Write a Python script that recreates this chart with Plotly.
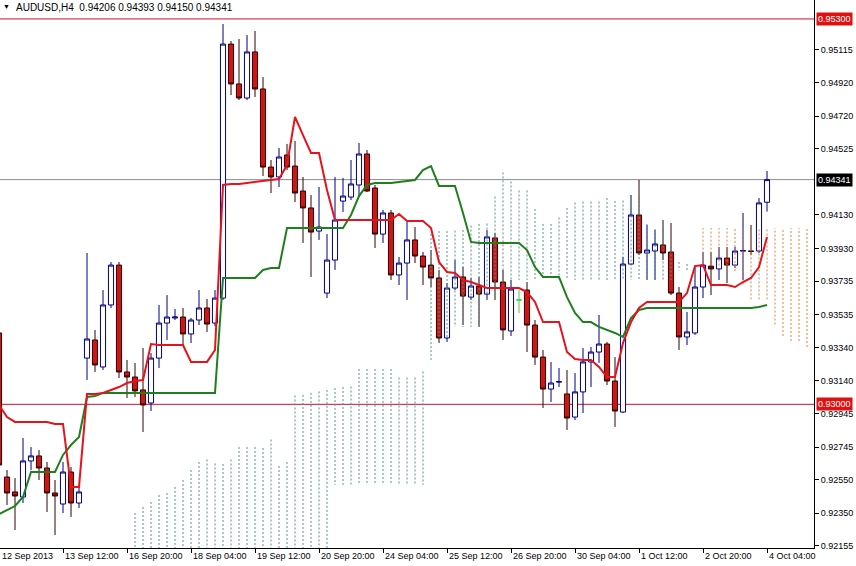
import plotly.graph_objects as go

# ---------------- data (AUDUSD H4) ----------------
bars = list(range(-8, 89))  # bar index, 0 = 13 Sep 12:00

opens = [0.93426, 0.92566, 0.92477, 0.92447, 0.92662, 0.92692, 0.92620, 0.92471,
         0.92405, 0.92596, 0.92411, 0.93276, 0.93384, 0.93223, 0.93593, 0.93831,
         0.93193, 0.93163, 0.93086, 0.93008, 0.93276, 0.93485, 0.93515, 0.93521,
         0.93420, 0.93503, 0.93575, 0.93485, 0.93634, 0.95150, 0.94912, 0.94828,
         0.95103, 0.94882, 0.94416, 0.94357, 0.94488, 0.94422, 0.94273, 0.94172,
         0.94034, 0.93664, 0.93861, 0.94213, 0.94237, 0.94309, 0.94494, 0.94291,
         0.94016, 0.94142, 0.93772, 0.93843, 0.93981, 0.93885, 0.93831, 0.93754,
         0.93396, 0.93694, 0.93760, 0.93640, 0.93706, 0.93658, 0.93993, 0.93730,
         0.93438, 0.93623, 0.93682, 0.93473, 0.93282, 0.93091, 0.93133, 0.93062,
         0.92924, 0.93074, 0.93253, 0.93312, 0.93360, 0.93139, 0.92954, 0.93837,
         0.94130, 0.93903, 0.93915, 0.93951, 0.93909, 0.93664, 0.93402, 0.93426,
         0.93700, 0.93825, 0.93808, 0.93873, 0.93831, 0.93915, 0.93915, 0.93915,
         0.94206]
highs = [0.93444, 0.92608, 0.92560, 0.92799, 0.92745, 0.92727, 0.92656, 0.92548,
         0.92656, 0.92626, 0.92507, 0.93903, 0.93444, 0.93682, 0.93849, 0.93849,
         0.93265, 0.93247, 0.93336, 0.93306, 0.93593, 0.93652, 0.93569, 0.93575,
         0.93515, 0.93682, 0.93629, 0.93682, 0.95270, 0.95168, 0.95180, 0.95204,
         0.95228, 0.94953, 0.94458, 0.94530, 0.94554, 0.94572, 0.94357, 0.94249,
         0.94297, 0.94016, 0.94357, 0.94351, 0.94458, 0.94560, 0.94518, 0.94309,
         0.94160, 0.94160, 0.93879, 0.94088, 0.94058, 0.93909, 0.93921, 0.93802,
         0.93724, 0.93861, 0.93819, 0.93754, 0.93760, 0.94040, 0.94022, 0.93802,
         0.93742, 0.93682, 0.93730, 0.93503, 0.93324, 0.93253, 0.93217, 0.93205,
         0.93187, 0.93336, 0.93342, 0.93533, 0.93372, 0.93282, 0.93879, 0.94249,
         0.94339, 0.94070, 0.94040, 0.94100, 0.94082, 0.93700, 0.93551, 0.93819,
         0.93909, 0.93909, 0.93939, 0.93939, 0.93939, 0.94142, 0.94070, 0.94231,
         0.94393]
lows = [0.92608, 0.92399, 0.92250, 0.92411, 0.92608, 0.92548, 0.92357, 0.92220,
        0.92351, 0.92328, 0.92381, 0.93145, 0.93193, 0.93205, 0.93575, 0.93157,
        0.93038, 0.93044, 0.92835, 0.92960, 0.93217, 0.93384, 0.93503, 0.93354,
        0.93366, 0.93473, 0.93432, 0.93467, 0.93623, 0.94846, 0.94816, 0.94816,
        0.94834, 0.94363, 0.94261, 0.94297, 0.94398, 0.94207, 0.93963, 0.93760,
        0.93981, 0.93634, 0.93802, 0.94148, 0.94219, 0.94237, 0.94267, 0.93933,
        0.93963, 0.93742, 0.93712, 0.93623, 0.93843, 0.93712, 0.93700, 0.93366,
        0.93372, 0.93682, 0.93473, 0.93623, 0.93462, 0.93623, 0.93623, 0.93384,
        0.93408, 0.93545, 0.93312, 0.93235, 0.92978, 0.93014, 0.93103, 0.92847,
        0.92906, 0.92948, 0.93103, 0.93247, 0.93115, 0.92865, 0.92948, 0.93831,
        0.93891, 0.93742, 0.93742, 0.93861, 0.93652, 0.93324, 0.93354, 0.93414,
        0.93634, 0.93652, 0.93742, 0.93724, 0.93814, 0.93742, 0.93891, 0.93903,
        0.94150]
closes = [0.92638, 0.92471, 0.92453, 0.92662, 0.92692, 0.92620, 0.92471, 0.92453,
          0.92596, 0.92411, 0.92477, 0.93390, 0.93235, 0.93593, 0.93831, 0.93193,
          0.93163, 0.93080, 0.92996, 0.93276, 0.93485, 0.93521, 0.93521, 0.93420,
          0.93503, 0.93575, 0.93479, 0.93634, 0.95150, 0.94912, 0.94828, 0.95103,
          0.94882, 0.94416, 0.94357, 0.94476, 0.94416, 0.94261, 0.94172, 0.94028,
          0.94058, 0.93861, 0.94100, 0.94243, 0.94315, 0.94494, 0.94273, 0.94016,
          0.94142, 0.93772, 0.93843, 0.93981, 0.93885, 0.93819, 0.93754, 0.93396,
          0.93694, 0.93760, 0.93646, 0.93706, 0.93658, 0.93999, 0.93730, 0.93444,
          0.93688, 0.93623, 0.93473, 0.93282, 0.93091, 0.93127, 0.93135, 0.92918,
          0.93074, 0.93253, 0.93312, 0.93360, 0.93139, 0.92960, 0.93837, 0.94130,
          0.93903, 0.93921, 0.93957, 0.93903, 0.93664, 0.93402, 0.93432, 0.93700,
          0.93831, 0.93808, 0.93873, 0.93831, 0.93915, 0.93917, 0.93913, 0.94202,
          0.94341]

tenkan = [0.92996, 0.92924, 0.92895, 0.92895, 0.92895, 0.92895, 0.92895, 0.92883,
          0.92883, 0.92507, 0.92507, 0.93062, 0.93062, 0.93068, 0.93086, 0.93103,
          0.93127, 0.93139, 0.93145, 0.93360, 0.93354, 0.93354, 0.93354, 0.93354,
          0.93253, 0.93253, 0.93253, 0.93324, 0.94309, 0.94315, 0.94315, 0.94321,
          0.94327, 0.94333, 0.94339, 0.94345, 0.94428, 0.94715, 0.94607, 0.94500,
          0.94500, 0.94279, 0.94100, 0.94100, 0.94100, 0.94100, 0.94100, 0.94100,
          0.94100, 0.94100, 0.94136, 0.94094, 0.94094, 0.94094, 0.94052, 0.93849,
          0.93790, 0.93784, 0.93742, 0.93730, 0.93712, 0.93694, 0.93694, 0.93694,
          0.93694, 0.93694, 0.93670, 0.93611, 0.93491, 0.93491, 0.93491, 0.93312,
          0.93270, 0.93265, 0.93265, 0.93223, 0.93163, 0.93163, 0.93366, 0.93491,
          0.93575, 0.93611, 0.93611, 0.93611, 0.93611, 0.93611, 0.93664, 0.93825,
          0.93831, 0.93712, 0.93712, 0.93712, 0.93700, 0.93730, 0.93754, 0.93819,
          0.93999]
kijun = [0.92345, 0.92369, 0.92393, 0.92447, 0.92596, 0.92596, 0.92596, 0.92596,
         0.92698, 0.92757, 0.92805, 0.93044, 0.93050, 0.93068, 0.93068, 0.93068,
         0.93068, 0.93068, 0.93068, 0.93068, 0.93068, 0.93068, 0.93068, 0.93068,
         0.93068, 0.93068, 0.93068, 0.93068, 0.93754, 0.93754, 0.93754, 0.93754,
         0.93754, 0.93802, 0.93814, 0.93814, 0.94052, 0.94052, 0.94052, 0.94052,
         0.94052, 0.94052, 0.94052, 0.94052, 0.94130, 0.94243, 0.94309, 0.94321,
         0.94321, 0.94321, 0.94327, 0.94333, 0.94339, 0.94398, 0.94422, 0.94303,
         0.94303, 0.94303, 0.94142, 0.93969, 0.93963, 0.93963, 0.93963, 0.93963,
         0.93963, 0.93963, 0.93921, 0.93819, 0.93760, 0.93760, 0.93760, 0.93640,
         0.93545, 0.93491, 0.93491, 0.93462, 0.93444, 0.93426, 0.93402, 0.93515,
         0.93563, 0.93575, 0.93575, 0.93575, 0.93575, 0.93575, 0.93575, 0.93575,
         0.93575, 0.93575, 0.93575, 0.93575, 0.93575, 0.93575, 0.93575, 0.93581,
         0.93593]

cloud_bars = list(range(9, 94))
span_a = [0.92351, 0.92387, 0.92417, 0.92459, 0.92471, 0.92507, 0.92548, 0.92608,
          0.92656, 0.92671, 0.92647, 0.92644, 0.92671, 0.92745, 0.92745, 0.92745,
          0.92739, 0.92790, 0.92632, 0.92656, 0.93053, 0.93056, 0.93068, 0.93077,
          0.93086, 0.93097, 0.93103, 0.93106, 0.93211, 0.93211, 0.93211, 0.93211,
          0.93211, 0.93160, 0.93160, 0.93160, 0.93196, 0.94016, 0.94034, 0.94034,
          0.94037, 0.94040, 0.94067, 0.94076, 0.94079, 0.94240, 0.94384, 0.94330,
          0.94276, 0.94276, 0.94166, 0.94076, 0.94076, 0.94115, 0.94172, 0.94204,
          0.94210, 0.94210, 0.94210, 0.94231, 0.94213, 0.94216, 0.94246, 0.94237,
          0.94076, 0.94046, 0.94043, 0.93942, 0.93849, 0.93837, 0.93828, 0.93828,
          0.93828, 0.93828, 0.93828, 0.93796, 0.93715, 0.93626, 0.93626, 0.93626,
          0.93476, 0.93408, 0.93378, 0.93378, 0.93342]
span_b = [0.92050, 0.92050, 0.92050, 0.92050, 0.92050, 0.92050, 0.92050, 0.92050,
          0.92050, 0.92050, 0.92050, 0.92050, 0.92050, 0.92050, 0.92050, 0.92050,
          0.92050, 0.92050, 0.92050, 0.92050, 0.92050, 0.92050, 0.92050, 0.92050,
          0.92050, 0.92519, 0.92519, 0.92519, 0.92519, 0.92519, 0.92519, 0.92519,
          0.92519, 0.92519, 0.92519, 0.92519, 0.92519, 0.93265, 0.93366, 0.93384,
          0.93462, 0.93462, 0.93462, 0.93462, 0.93623, 0.93682, 0.93682, 0.93682,
          0.93742, 0.93742, 0.93742, 0.93742, 0.93742, 0.93742, 0.93742, 0.93742,
          0.93742, 0.93742, 0.93742, 0.93742, 0.93742, 0.93742, 0.93742, 0.93742,
          0.93742, 0.93742, 0.93742, 0.93742, 0.93799, 0.93799, 0.93825, 0.94052,
          0.94052, 0.94052, 0.94052, 0.94052, 0.94052, 0.94052, 0.94052, 0.94052,
          0.94052, 0.94052, 0.94052, 0.94052, 0.94052]

label_bars = [-8, 0, 8, 16, 24, 32, 40, 48, 56, 64, 72, 80, 88]
time_labels = ["12 Sep 2013", "13 Sep 12:00", "16 Sep 20:00", "18 Sep 04:00",
               "19 Sep 12:00", "20 Sep 20:00", "24 Sep 04:00", "25 Sep 12:00",
               "26 Sep 20:00", "30 Sep 04:00", "1 Oct 12:00", "2 Oct 20:00",
               "4 Oct 04:00"]
price_ticks = [0.95115, 0.94920, 0.94720, 0.94525, 0.94130, 0.93930, 0.93735,
               0.93535, 0.93340, 0.93140, 0.92945, 0.92745, 0.92550, 0.92350, 0.92155]
levels = [0.95300, 0.93000]
symbol = "AUDUSD,H4"

# ---------------- figure ----------------
FONT = "Liberation Sans"
X_RANGE = [-7.875, 93.875]
fig = go.Figure()

# Ichimoku cloud as dotted vertical columns
tx, ty, ox, oy = [], [], [], []
for k, a, b in zip(cloud_bars, span_a, span_b):
    if a >= b:
        tx += [k, k, None]
        ty += [a, b, None]
    else:
        ox += [k, k, None]
        oy += [a, b, None]
fig.add_trace(go.Scatter(x=tx, y=ty, mode="lines", hoverinfo="skip",
                         line=dict(color="#4f9489", width=1, dash="2px,2px")))
fig.add_trace(go.Scatter(x=ox, y=oy, mode="lines", hoverinfo="skip",
                         line=dict(color="#e0803a", width=1, dash="2px,2px")))

# candles
reg = [i for i in range(len(bars)) if opens[i] != closes[i]]
doji = [i for i in range(len(bars)) if opens[i] == closes[i]]
fig.add_trace(go.Candlestick(
    x=[bars[i] for i in reg], open=[opens[i] for i in reg], high=[highs[i] for i in reg],
    low=[lows[i] for i in reg], close=[closes[i] for i in reg],
    increasing=dict(line=dict(color="#000080", width=1), fillcolor="white"),
    decreasing=dict(line=dict(color="#2a0505", width=1), fillcolor="#d01515"),
    whiskerwidth=0, hoverinfo="skip"))
fig.add_trace(go.Candlestick(
    x=[bars[i] for i in doji], open=[opens[i] for i in doji], high=[highs[i] for i in doji],
    low=[lows[i] for i in doji], close=[closes[i] for i in doji],
    increasing=dict(line=dict(color="#44cc44", width=1), fillcolor="#44cc44"),
    decreasing=dict(line=dict(color="#44cc44", width=1), fillcolor="#44cc44"),
    whiskerwidth=0, hoverinfo="skip"))

# Tenkan / Kijun
fig.add_trace(go.Scatter(x=bars, y=kijun, mode="lines", hoverinfo="skip",
                         line=dict(color="#1f7f1f", width=2)))
fig.add_trace(go.Scatter(x=bars, y=tenkan, mode="lines", hoverinfo="skip",
                         line=dict(color="#e8121c", width=2)))

# horizontal levels
shapes = []
for lv in levels:
    shapes.append(dict(type="line", xref="paper", x0=0, x1=1, yref="y", y0=lv, y1=lv,
                       line=dict(color="#c8102e", width=1), layer="below"))
last_close = closes[-1]
shapes.append(dict(type="line", xref="paper", x0=0, x1=1, yref="y", y0=last_close,
                   y1=last_close, line=dict(color="#8c8c8c", width=1), layer="below"))

annotations = []
for lv in levels:
    annotations.append(dict(x=1, xref="paper", y=lv, yref="y", xanchor="left",
                            xshift=2, text=f"{lv:.5f}", showarrow=False,
                            bgcolor="#e01010", borderpad=1,
                            font=dict(family=FONT, size=9, color="white")))
annotations.append(dict(x=1, xref="paper", y=last_close, yref="y", xanchor="left",
                        xshift=2, text=f"{last_close:.5f}", showarrow=False,
                        bgcolor="black", borderpad=1,
                        font=dict(family=FONT, size=9, color="white")))
for b, lab in zip(label_bars, time_labels):
    annotations.append(dict(x=max(b, X_RANGE[0]), xref="x", y=0, yref="paper",
                            xanchor="left", yanchor="top", yshift=-1, text=lab,
                            showarrow=False,
                            font=dict(family=FONT, size=9, color="black")))
title = f"{symbol}  {opens[-1]:.5f} {highs[-1]:.5f} {lows[-1]:.5f} {closes[-1]:.5f}"
annotations.append(dict(x=14 / 814, xref="paper", y=1, yref="paper", xanchor="left",
                        yanchor="top", text=title, showarrow=False,
                        font=dict(family=FONT, size=10, color="black")))
annotations.append(dict(x=1 / 814, xref="paper", y=1, yref="paper", xanchor="left",
                        yanchor="top", yshift=-1, text="▼", showarrow=False,
                        font=dict(family=FONT, size=7, color="black")))

fig.update_layout(
    width=856, height=566,
    margin=dict(l=0, r=42, t=0, b=18),
    paper_bgcolor="white", plot_bgcolor="white",
    showlegend=False,
    boxgap=0.2, boxgroupgap=0.2,
    font=dict(family=FONT, size=9, color="black"),
    shapes=shapes, annotations=annotations,
    xaxis=dict(range=X_RANGE, tickvals=label_bars, showticklabels=False,
               ticks="outside", ticklen=4, tickcolor="black",
               showline=True, linecolor="black", linewidth=1,
               showgrid=False, zeroline=False, rangeslider=dict(visible=False),
               fixedrange=True),
    yaxis=dict(side="right", range=[0.921425, 0.95413], tickvals=price_ticks,
               tickformat=".5f", ticks="outside", ticklen=4, tickcolor="black",
               showline=True, linecolor="black", linewidth=1,
               showgrid=False, zeroline=False,
               tickfont=dict(family=FONT, size=9, color="black")),
)

fig.write_html("out.html", config={"displayModeBar": False},
               post_script="document.body.style.margin='0';document.body.style.overflow='hidden';")
